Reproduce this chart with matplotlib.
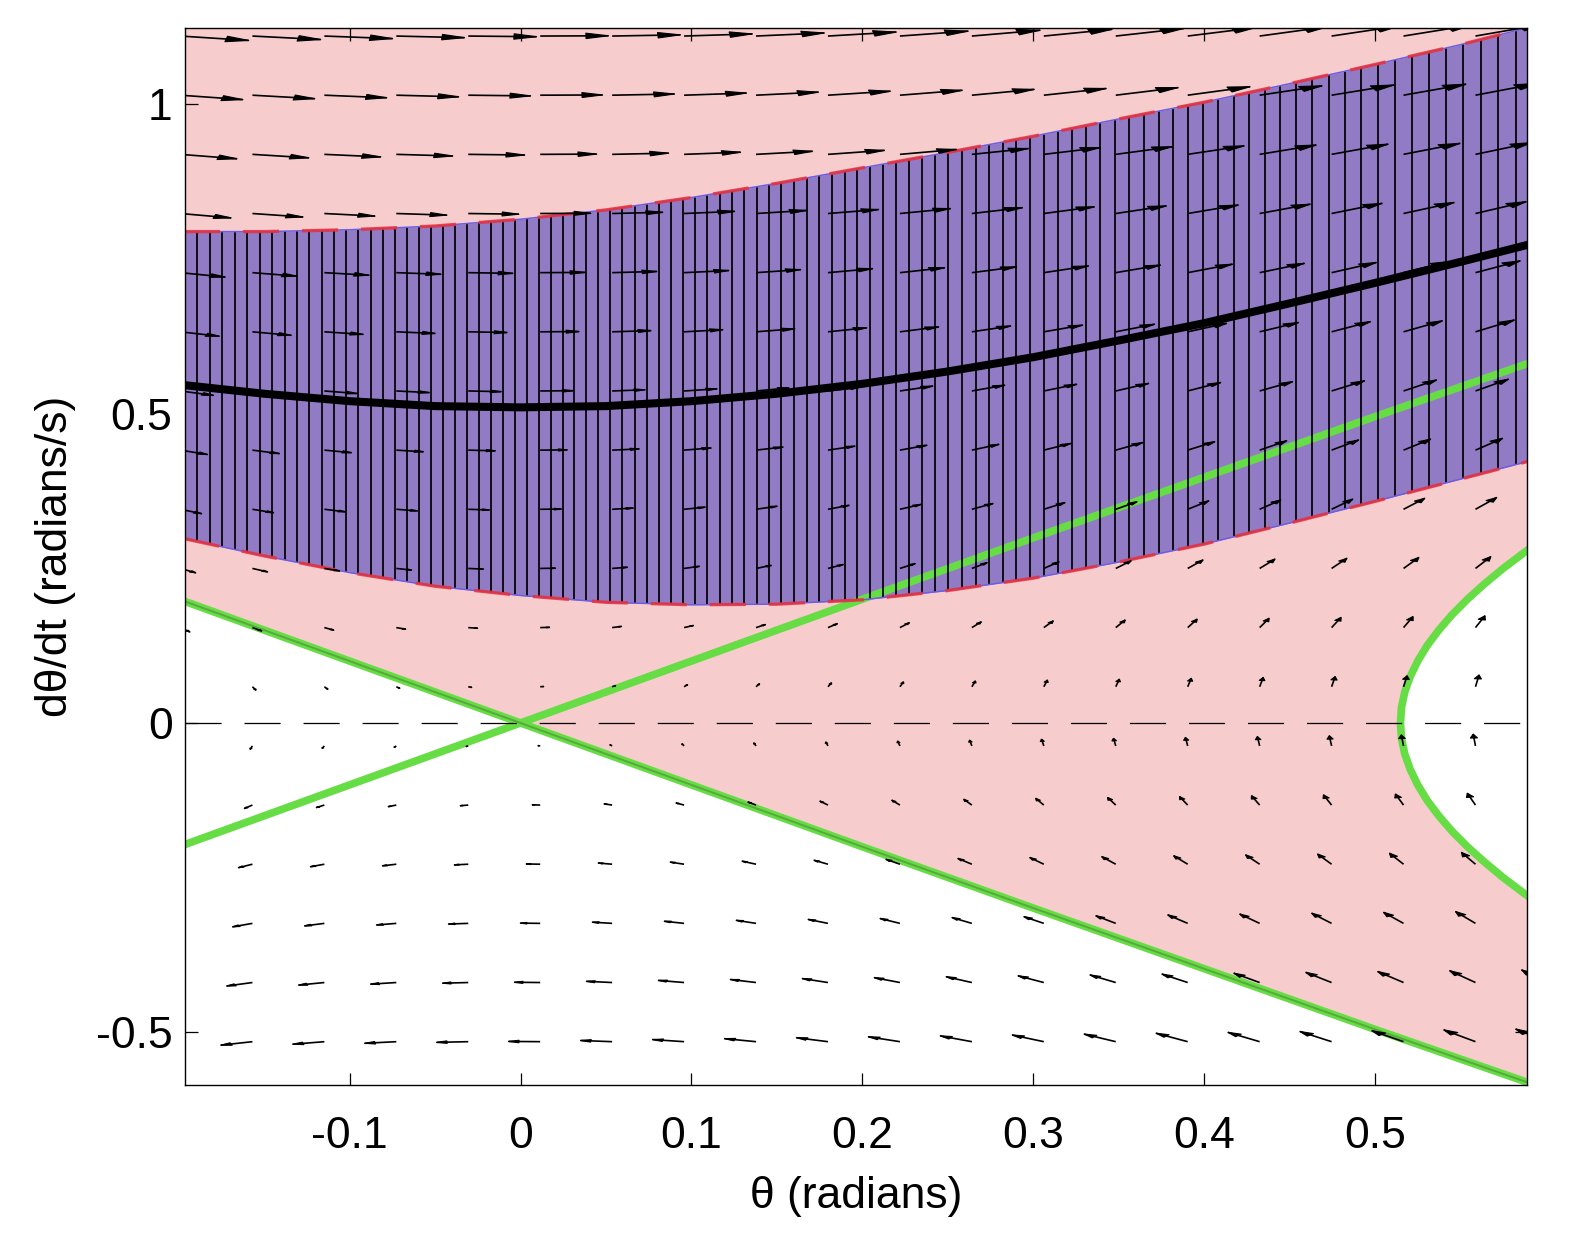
import numpy as np
import matplotlib
matplotlib.use("Agg")
import matplotlib.pyplot as plt
from matplotlib.collections import LineCollection, PolyCollection

plt.rcParams['font.family'] = ['Liberation Sans', 'DejaVu Sans']
plt.rcParams['axes.unicode_minus'] = False
plt.rcParams['lines.scale_dashes'] = False

# plot window
theta_lim = (-0.19635, 0.58905)
omega_lim = (-0.585, 1.123)

# nominal trajectory and the funnel around it
theta_nom = [-0.197, -0.15, -0.1, -0.05, 0.0, 0.05, 0.1, 0.15, 0.2, 0.25, 0.3, 0.35, 0.4, 0.45, 0.5, 0.55, 0.590]
omega_nom = [0.546, 0.532, 0.520, 0.512, 0.510, 0.512, 0.520, 0.532, 0.548, 0.568, 0.591, 0.618, 0.646, 0.678, 0.711, 0.745, 0.773]
funnel_upper = [0.794, 0.794, 0.797, 0.803, 0.814, 0.829, 0.849, 0.872, 0.897, 0.922, 0.948, 0.976, 1.003, 1.033, 1.064, 1.096, 1.124]
funnel_lower = [0.298, 0.270, 0.243, 0.221, 0.206, 0.195, 0.191, 0.192, 0.199, 0.214, 0.234, 0.260, 0.289, 0.323, 0.358, 0.394, 0.423]

# separatrix branches through the origin
theta_sep = [-0.2, -0.1, 0.0, 0.1, 0.2, 0.3, 0.4, 0.5, 0.6]
omega_sep_up = [-0.200, -0.100, 0.0, 0.100, 0.200, 0.299, 0.397, 0.495, 0.591]
omega_sep_down = [0.200, 0.100, 0.0, -0.100, -0.200, -0.299, -0.397, -0.495, -0.591]

# level curve closing the white pocket on the right
omega_right = [-0.29, -0.275, -0.25, -0.225, -0.2, -0.175, -0.15, -0.125, -0.1, -0.075, -0.05, -0.025, 0.0,
               0.025, 0.05, 0.075, 0.1, 0.125, 0.15, 0.175, 0.2, 0.225, 0.25, 0.275, 0.29]
theta_right = [0.5948, 0.5872, 0.5752, 0.5643, 0.5542, 0.5452, 0.5374, 0.5306, 0.5251, 0.5207, 0.5175, 0.5156, 0.515,
               0.5156, 0.5175, 0.5207, 0.5251, 0.5306, 0.5374, 0.5452, 0.5542, 0.5643, 0.5752, 0.5872, 0.5948]

# vector field grid (pendulum about the upright, g/l = 1)
theta_grid = np.linspace(-0.199, 0.601, 20)
omega_grid = np.linspace(-0.515, 1.110, 18)
arrow_scale = 0.036
slice_dt = 0.0137

pink = '#f7cccc'
purple = '#927bc5'
green = '#66dd44'

fig = plt.figure(figsize=(15.72, 12.48), dpi=100)
ax = fig.add_axes([185 / 1572, 1 - 1085 / 1248, (1527 - 185) / 1572, (1085 - 28) / 1248])

# regions
ax.fill_between(theta_sep, omega_sep_down, omega_lim[1] + 0.2, color=pink, lw=0, zorder=1)
ax.fill_betweenx(omega_right, theta_right, 0.7, color='white', lw=0, zorder=2)
ax.fill_between(theta_nom, funnel_lower, funnel_upper, color=purple, lw=0, zorder=3)

# green curves
ax.plot(theta_sep, omega_sep_up, color=green, lw=5.5, zorder=4, solid_capstyle='butt')
ax.plot(theta_sep, omega_sep_down, color=green, lw=5.5, zorder=4, solid_capstyle='butt')
ax.plot(theta_sep, omega_sep_down, color='#58a83e', lw=1.4, zorder=4)
ax.plot(theta_right, omega_right, color=green, lw=5.5, zorder=4)

# funnel slices at equal time steps along the nominal trajectory
inv_speed = 1.0 / np.array(omega_nom)
t_cum = np.concatenate([[0.0], np.cumsum(np.diff(theta_nom) * (inv_speed[1:] + inv_speed[:-1]) / 2)])
t_anchor = np.interp(0.0809, theta_nom, t_cum)
t_lines = t_anchor + np.arange(-300, 300) * slice_dt
t_lines = t_lines[(t_lines >= 0) & (t_lines <= t_cum[-1])]
theta_lines = np.interp(t_lines, t_cum, theta_nom)
ax.vlines(theta_lines, np.interp(theta_lines, theta_nom, funnel_lower),
          np.interp(theta_lines, theta_nom, funnel_upper), color='black', lw=1.25, zorder=5)

# funnel boundaries
for edge in (funnel_upper, funnel_lower):
    ax.plot(theta_nom, edge, color='#6f5de0', lw=1.1, zorder=6)
    ax.plot(theta_nom, edge, color='#e8303a', lw=2.4, alpha=0.85, dashes=(26, 16.5), zorder=6)

# quiver, arrows drawn tail-at-grid-point
TH, OM = np.meshgrid(theta_grid, omega_grid)
U = OM * arrow_scale
V = np.sin(TH) * arrow_scale
a, b = 0.33, 0.33
tx, ty = TH + U, OM + V
shafts, heads = [], []
for x0, y0, x1, y1, u, v in zip(TH.ravel(), OM.ravel(), tx.ravel(), ty.ravel(), U.ravel(), V.ravel()):
    shafts.append([(x0, y0), (x1, y1)])
    heads.append([(x1 - a * (u + b * v), y1 - a * (v - b * u)), (x1, y1),
                  (x1 - a * (u - b * v), y1 - a * (v + b * u))])
ax.add_collection(LineCollection(shafts, colors='black', linewidths=1.2, zorder=7))
ax.add_collection(PolyCollection(heads, facecolors='black', edgecolors='black', linewidths=0.8, zorder=7))

# nominal trajectory
ax.plot(theta_nom, omega_nom, color='black', lw=5.8, zorder=8)

# zero line
ax.axhline(0, color='black', lw=0.9, dashes=(26, 16.5), zorder=9)

ax.set_xlim(*theta_lim)
ax.set_ylim(*omega_lim)
ax.set_xticks([-0.1, 0, 0.1, 0.2, 0.3, 0.4, 0.5])
ax.set_xticklabels(['-0.1', '0', '0.1', '0.2', '0.3', '0.4', '0.5'])
ax.set_yticks([-0.5, 0, 0.5, 1])
ax.set_yticklabels(['-0.5', '0', '0.5', '1'])
ax.tick_params(direction='in', length=9, width=0.9, top=True, right=True, labelsize=32)
ax.tick_params(axis='x', pad=22)
ax.tick_params(axis='y', pad=9)
for sp in ax.spines.values():
    sp.set_linewidth(1.0)
    sp.set_zorder(10)

ax.set_xlabel('θ (radians)', fontsize=32, labelpad=14)
ax.set_ylabel('dθ/dt (radians/s)', fontsize=32, labelpad=14)

fig.savefig('out.png', dpi=100)
